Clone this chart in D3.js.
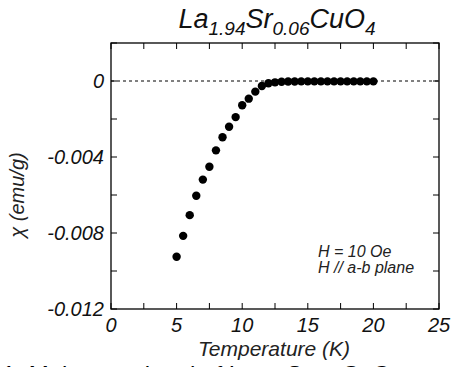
<!DOCTYPE html>
<html><head><meta charset="utf-8">
<script src="https://cdn.jsdelivr.net/npm/d3@7"></script>
<style>
html,body{margin:0;padding:0;background:#fff;overflow:hidden;}
svg{display:block;}
text{font-family:"Liberation Sans",Arial,sans-serif;}
</style></head>
<body>
<svg id="c" width="453" height="367"></svg>
<script>
const temperature = [5,5.5,6,6.5,7,7.5,8,8.5,9,9.5,10,10.5,11,11.5,12,12.5,13,13.5,14,14.5,15,15.5,16,16.5,17,17.5,18,18.5,19,19.5,20];
const chi = [-0.00925,-0.00815,-0.00706,-0.00604,-0.00519,-0.00451,-0.00365,-0.00296,-0.00241,-0.0019,-0.00128,-0.00093,-0.00056,-0.00026,-0.00012,-0.00007,-0.00004,-0.00003,-0.00003,-0.00002,-0.00002,-0.00002,-0.00002,-0.00002,-0.00002,-0.00002,-0.00002,-0.00002,-0.00002,-0.00002,-0.00002];
const xTicks = [0,5,10,15,20,25];
const xMinor = [2.5,7.5,12.5,17.5,22.5];
const yTicks = [0,-0.004,-0.008,-0.012];
const yMinor = [0.002,-0.002,-0.006,-0.010];
const yTickLabels = ["0","-0.004","-0.008","-0.012"];

const svg = d3.select("#c");
const L=111,R=439,T=43,B=309;
const x = d3.scaleLinear().domain([0,25]).range([L,R]);
const y = d3.scaleLinear().domain([-0.012,0.002]).range([B,T]);
const tl = 6;

// clipped caption (drawn first, below everything)
const cap = svg.append("text").attr("x",2).attr("y",383).attr("font-family","'Liberation Serif',serif")
  .attr("font-size",24).attr("fill","#000");
cap.append("tspan").text("1: Meissner signal of La");
cap.append("tspan").attr("font-size",16).attr("dy",4).text("1.94");
cap.append("tspan").attr("dy",-4).text("Sr");
cap.append("tspan").attr("font-size",16).attr("dy",4).text("0.06");
cap.append("tspan").attr("dy",-4).text("CuO");
cap.append("tspan").attr("font-size",16).attr("dy",4).text("4");

// zero dashed line
svg.append("line").attr("x1",L).attr("x2",R).attr("y1",y(0)).attr("y2",y(0))
  .attr("stroke","#000").attr("stroke-width",1).attr("stroke-dasharray","3,3");

// ticks (inside)
const allX = xTicks.concat(xMinor);
const allY = yTicks.concat(yMinor);
const tg = svg.append("g").attr("stroke","#000").attr("stroke-width",1);
allX.forEach(v=>{
  tg.append("line").attr("x1",x(v)).attr("x2",x(v)).attr("y1",B).attr("y2",B-tl);
  tg.append("line").attr("x1",x(v)).attr("x2",x(v)).attr("y1",T).attr("y2",T+tl);
});
allY.forEach(v=>{
  tg.append("line").attr("x1",L).attr("x2",L+tl).attr("y1",y(v)).attr("y2",y(v));
  tg.append("line").attr("x1",R).attr("x2",R-tl).attr("y1",y(v)).attr("y2",y(v));
});

// frame
svg.append("rect").attr("x",L).attr("y",T).attr("width",R-L).attr("height",B-T)
  .attr("fill","none").attr("stroke","#000").attr("stroke-width",1.3);

// tick labels
svg.append("g").selectAll("text").data(xTicks).join("text")
  .attr("x",d=>x(d)).attr("y",B+23).attr("text-anchor","middle")
  .attr("font-size",20).attr("font-style","italic").attr("fill","#111").text(d=>d);
svg.append("g").selectAll("text").data(yTicks).join("text")
  .attr("x",L-7).attr("y",d=>y(d)).attr("dy","0.36em").attr("text-anchor","end")
  .attr("font-size",20).attr("font-style","italic").attr("fill","#111")
  .text((d,i)=>yTickLabels[i]);

// points
svg.append("g").selectAll("circle").data(temperature).join("circle")
  .attr("cx",(d)=>x(d)).attr("cy",(d,i)=>y(chi[i])).attr("r",4.2).attr("fill","#000");

// title
const t = svg.append("text").attr("x",(L+R)/2+2).attr("y",28).attr("text-anchor","middle")
  .attr("font-size",27).attr("font-style","italic").attr("fill","#111");
t.append("tspan").text("La");
t.append("tspan").attr("font-size",19).attr("dy",7).text("1.94");
t.append("tspan").attr("dy",-7).text("Sr");
t.append("tspan").attr("font-size",19).attr("dy",7).text("0.06");
t.append("tspan").attr("dy",-7).text("CuO");
t.append("tspan").attr("font-size",19).attr("dy",7).text("4");

// axis titles
svg.append("text").attr("x",(L+R)/2-1).attr("y",356).attr("text-anchor","middle")
  .attr("font-size",21).attr("font-style","italic").attr("fill","#222").text("Temperature (K)");
svg.append("text").attr("transform","translate(24,"+195+") rotate(-90)").attr("text-anchor","middle")
  .attr("font-size",20).attr("font-style","italic").attr("fill","#222").text("χ (emu/g)");

// annotation
svg.append("text").attr("x",318).attr("y",257).attr("font-size",16).attr("font-style","italic").attr("fill","#222").text("H = 10 Oe");
svg.append("text").attr("x",318).attr("y",273).attr("font-size",16).attr("font-style","italic").attr("fill","#222").text("H // a-b plane");
</script>
</body></html>
